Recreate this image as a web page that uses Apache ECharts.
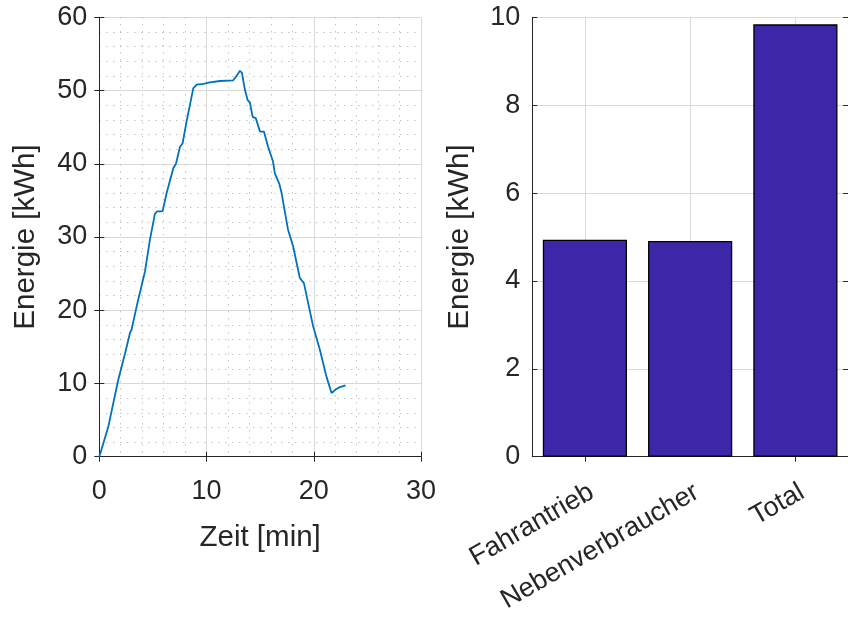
<!DOCTYPE html>
<html>
<head>
<meta charset="utf-8">
<script src="https://cdn.jsdelivr.net/npm/echarts@6/dist/echarts.min.js"></script>
<style>
html,body{margin:0;padding:0;background:#fff;}
#c{width:848px;height:620px;}
</style>
</head>
<body>
<div id="c"></div>
<script>
// ---- Data ----
const timeMin = [0, 0.84, 1.77, 2.4, 2.86, 3.0, 3.48, 4.26, 4.72, 5.19, 5.4, 5.9, 6.28, 6.9, 7.15, 7.52, 7.77, 8.14, 8.45, 8.76, 9.08, 9.7, 10.3, 11.25, 12.49, 12.86, 13.11, 13.3, 13.58, 13.83, 14.04, 14.3, 14.6, 14.98, 15.35, 15.75, 16.2, 16.37, 16.78, 17.0, 17.6, 18.08, 18.7, 19.08, 19.94, 20.57, 21.19, 21.66, 22.06, 22.43, 22.96];
const energyKWh = [0, 4.1, 10.5, 14.1, 16.9, 17.3, 20.5, 25.3, 29.6, 33.2, 33.5, 33.5, 36.0, 39.4, 40.0, 42.3, 42.8, 45.8, 48.0, 50.3, 50.8, 50.9, 51.1, 51.3, 51.4, 52.1, 52.7, 52.4, 50.1, 48.7, 48.4, 46.4, 46.2, 44.4, 44.4, 42.3, 40.3, 38.7, 37.3, 36.0, 31.0, 28.7, 24.4, 23.7, 17.8, 14.6, 10.9, 8.7, 9.2, 9.5, 9.75];

const barCategories = ['Fahrantrieb', 'Nebenverbraucher', 'Total'];
const barValues = [4.94, 4.91, 9.84];

const lineXTicks = [0, 10, 20, 30];
const lineYTicks = [0, 10, 20, 30, 40, 50, 60];
const barYTicks = [0, 2, 4, 6, 8, 10];

// ---- Styles ----
const FONT = 'Liberation Sans, Arial, Helvetica, sans-serif';
const TXT = '#262626';
const AX = '#262626';
const GRID = '#d9d9d9';
const MINOR = '#a8a8a8';

const linePairs = timeMin.map((t, i) => [t, energyKWh[i]]);

const axisLineStyle = { show: true, lineStyle: { color: AX, width: 1 } };
const tickInside = { show: true, inside: true, length: 5, lineStyle: { color: AX, width: 1 } };
const tickLabel = { color: TXT, fontSize: 27, fontFamily: FONT };
const nameStyle = { color: TXT, fontSize: 29.5, fontFamily: FONT };

const chart = echarts.init(document.getElementById('c'), null, { renderer: 'canvas' });

chart.setOption({
  animation: false,
  backgroundColor: '#ffffff',
  grid: [
    { left: 99.3, top: 17.3, width: 321.7, height: 439.4, containLabel: false },
    { left: 532.3, top: 17.3, width: 320, height: 439.4, containLabel: false }
  ],
  xAxis: [
    {
      type: 'value', gridIndex: 0, position: 'bottom',
      min: lineXTicks[0], max: lineXTicks[lineXTicks.length - 1], interval: 10,
      axisLine: axisLineStyle, axisTick: tickInside,
      axisLabel: Object.assign({ margin: 21 }, tickLabel),
      splitLine: { show: true, lineStyle: { color: GRID, width: 1 } },
      minorTick: { show: false, splitNumber: 5 },
      minorSplitLine: { show: true, lineStyle: { color: MINOR, width: 1, type: [1, 6] } },
      name: 'Zeit [min]', nameLocation: 'middle', nameGap: 66, nameTextStyle: nameStyle
    },
    {
      type: 'value', gridIndex: 0, position: 'top',
      min: lineXTicks[0], max: lineXTicks[lineXTicks.length - 1], interval: 10,
      axisLine: axisLineStyle, axisTick: tickInside,
      axisLabel: { show: false }, splitLine: { show: false }
    },
    {
      type: 'category', gridIndex: 1, position: 'bottom', data: barCategories,
      boundaryGap: true,
      axisLine: axisLineStyle,
      axisTick: Object.assign({ alignWithLabel: true }, tickInside),
      axisLabel: Object.assign({ margin: 22, rotate: 30, align: 'right', verticalAlign: 'top', interval: 0 }, tickLabel),
      splitLine: { show: true, alignWithLabel: true, interval: 0, lineStyle: { color: GRID, width: 1 } }
    },
    {
      type: 'category', gridIndex: 1, position: 'top', data: barCategories,
      boundaryGap: true,
      axisLine: axisLineStyle,
      axisTick: Object.assign({ alignWithLabel: true }, tickInside),
      axisLabel: { show: false }, splitLine: { show: false }
    }
  ],
  yAxis: [
    {
      type: 'value', gridIndex: 0, position: 'left',
      min: lineYTicks[0], max: lineYTicks[lineYTicks.length - 1], interval: 10,
      axisLine: axisLineStyle, axisTick: tickInside,
      axisLabel: Object.assign({ margin: 12 }, tickLabel),
      splitLine: { show: true, lineStyle: { color: GRID, width: 1 } },
      minorTick: { show: false, splitNumber: 5 },
      minorSplitLine: { show: true, lineStyle: { color: MINOR, width: 1, type: [1, 6] } },
      name: 'Energie [kWh]', nameLocation: 'middle', nameGap: 58, nameRotate: 90, nameTextStyle: nameStyle
    },
    {
      type: 'value', gridIndex: 0, position: 'right',
      min: lineYTicks[0], max: lineYTicks[lineYTicks.length - 1], interval: 10,
      axisLine: axisLineStyle, axisTick: tickInside,
      axisLabel: { show: false }, splitLine: { show: false }
    },
    {
      type: 'value', gridIndex: 1, position: 'left',
      min: barYTicks[0], max: barYTicks[barYTicks.length - 1], interval: 2,
      axisLine: axisLineStyle, axisTick: tickInside,
      axisLabel: Object.assign({ margin: 12 }, tickLabel),
      splitLine: { show: true, lineStyle: { color: GRID, width: 1 } },
      name: 'Energie [kWh]', nameLocation: 'middle', nameGap: 57, nameRotate: 90, nameTextStyle: nameStyle
    },
    {
      type: 'value', gridIndex: 1, position: 'right',
      min: barYTicks[0], max: barYTicks[barYTicks.length - 1], interval: 2,
      axisLine: axisLineStyle, axisTick: tickInside,
      axisLabel: { show: false }, splitLine: { show: false }
    }
  ],
  series: [
    {
      type: 'line', xAxisIndex: 0, yAxisIndex: 0,
      data: linePairs, showSymbol: false, symbol: 'none', smooth: false,
      lineStyle: { color: '#0072BD', width: 1.8 }, z: 5
    },
    {
      type: 'bar', xAxisIndex: 2, yAxisIndex: 2,
      data: barValues, barWidth: '80%',
      itemStyle: { color: '#3E26A8', borderColor: '#000000', borderWidth: 1.3 }, z: 5
    }
  ]
});
</script>
</body>
</html>
